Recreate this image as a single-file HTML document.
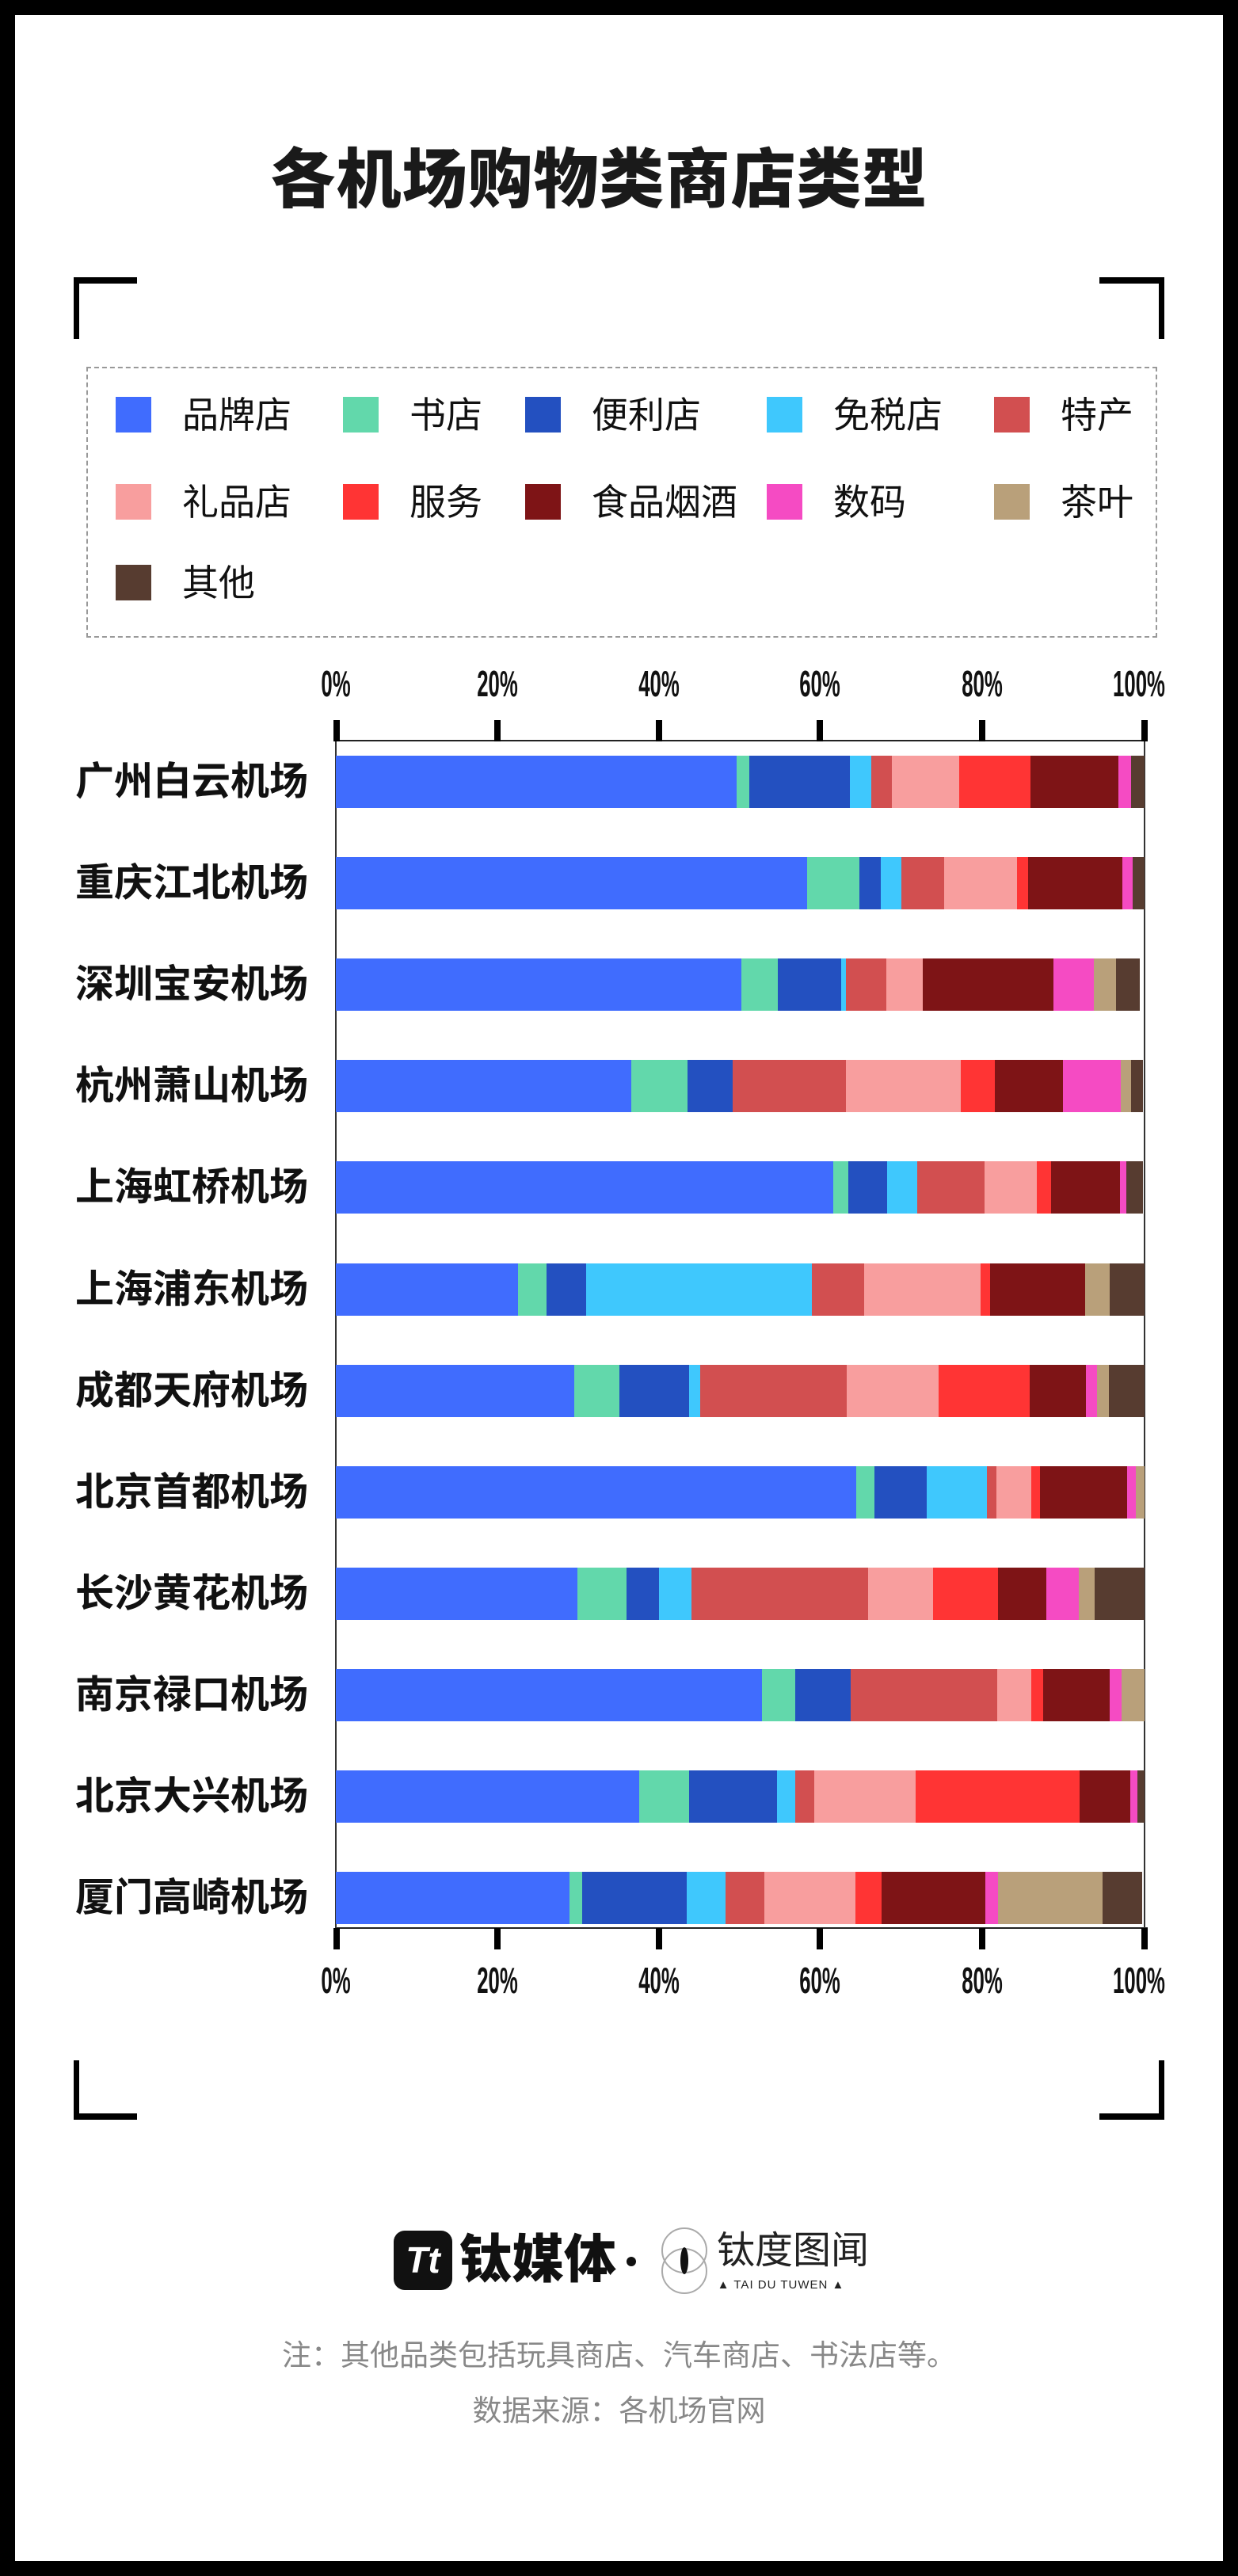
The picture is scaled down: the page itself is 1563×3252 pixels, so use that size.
<!DOCTYPE html>
<html><head><meta charset="utf-8"><style>
*{margin:0;padding:0;box-sizing:border-box}
body{width:1563px;height:3252px;position:relative;background:#fff;overflow:hidden;font-family:"Liberation Sans","Noto Sans CJK SC",sans-serif}
.frame{position:absolute;left:0;top:0;width:1563px;height:3252px;border:19px solid #000}
.abs{position:absolute}
.title{position:absolute;left:-25px;width:1563px;top:160px;text-align:center;font-size:82px;font-weight:900;color:#1a1a1a;letter-spacing:1px}
.br{position:absolute;background:#000}
.lg{position:absolute;left:109px;top:463px;width:1352px;height:342px;border:2px dashed #999}
.sq{position:absolute;width:45px;height:45px}
.lt{position:absolute;font-size:46px;line-height:46px;color:#111}
.bar{position:absolute;left:424px;height:66px;display:flex}
.bar div{height:66px}
.lab{position:absolute;left:95px;width:300px;font-size:49px;font-weight:bold;line-height:66px;color:#111;white-space:nowrap}
.tk{position:absolute;width:8px;height:27px;background:#000}
.tl{position:absolute;width:120px;text-align:center;font-size:46px;font-weight:bold;color:#111;transform:scaleX(0.56);line-height:40px}
.A{background:#406cfe}.B{background:#62d8ab}.C{background:#2350c0}.D{background:#3fc8fd}.E{background:#d24f50}.F{background:#f89e9e}.G{background:#ff3434}.H{background:#7e1416}.I{background:#f54bc3}.J{background:#b9a07a}.K{background:#573c30}
</style></head><body>
<div class="frame"></div>
<div class="title">各机场购物类商店类型</div>
<div class="br" style="left:93px;top:350px;width:80px;height:8px"></div>
<div class="br" style="left:93px;top:350px;width:7px;height:78px"></div>
<div class="br" style="left:1388px;top:350px;width:82px;height:8px"></div>
<div class="br" style="left:1463px;top:350px;width:7px;height:78px"></div>
<div class="br" style="left:93px;top:2668px;width:80px;height:8px"></div>
<div class="br" style="left:93px;top:2601px;width:7px;height:75px"></div>
<div class="br" style="left:1388px;top:2668px;width:82px;height:8px"></div>
<div class="br" style="left:1463px;top:2601px;width:7px;height:75px"></div>
<div class="lg"></div>
<div class="sq A" style="left:146px;top:501px"></div><div class="lt" style="left:230px;top:501px">品牌店</div>
<div class="sq B" style="left:433px;top:501px"></div><div class="lt" style="left:517px;top:501px">书店</div>
<div class="sq C" style="left:663px;top:501px"></div><div class="lt" style="left:747px;top:501px">便利店</div>
<div class="sq D" style="left:968px;top:501px"></div><div class="lt" style="left:1052px;top:501px">免税店</div>
<div class="sq E" style="left:1255px;top:501px"></div><div class="lt" style="left:1339px;top:501px">特产</div>
<div class="sq F" style="left:146px;top:611px"></div><div class="lt" style="left:230px;top:611px">礼品店</div>
<div class="sq G" style="left:433px;top:611px"></div><div class="lt" style="left:517px;top:611px">服务</div>
<div class="sq H" style="left:663px;top:611px"></div><div class="lt" style="left:747px;top:611px">食品烟酒</div>
<div class="sq I" style="left:968px;top:611px"></div><div class="lt" style="left:1052px;top:611px">数码</div>
<div class="sq J" style="left:1255px;top:611px"></div><div class="lt" style="left:1339px;top:611px">茶叶</div>
<div class="sq K" style="left:146px;top:713px"></div><div class="lt" style="left:230px;top:713px">其他</div>
<div class="abs" style="left:424px;top:934px;width:1025px;height:2px;background:#222"></div>
<div class="abs" style="left:424px;top:2433px;width:1025px;height:2px;background:#222"></div>
<div class="abs" style="left:423px;top:935px;width:2px;height:1499px;background:#333"></div>
<div class="abs" style="left:1444px;top:935px;width:2px;height:1499px;background:#333"></div>
<div class="tk" style="left:421px;top:909px"></div><div class="tk" style="left:624px;top:909px"></div><div class="tk" style="left:828px;top:909px"></div><div class="tk" style="left:1031px;top:909px"></div><div class="tk" style="left:1236px;top:909px"></div><div class="tk" style="left:1441px;top:909px"></div>
<div class="tk" style="left:421px;top:2434px"></div><div class="tk" style="left:624px;top:2434px"></div><div class="tk" style="left:828px;top:2434px"></div><div class="tk" style="left:1031px;top:2434px"></div><div class="tk" style="left:1236px;top:2434px"></div><div class="tk" style="left:1441px;top:2434px"></div>
<div class="tl" style="left:364px;top:843px">0%</div><div class="tl" style="left:568px;top:843px">20%</div><div class="tl" style="left:772px;top:843px">40%</div><div class="tl" style="left:975px;top:843px">60%</div><div class="tl" style="left:1180px;top:843px">80%</div><div class="tl" style="left:1378px;top:843px">100%</div>
<div class="tl" style="left:364px;top:2480px">0%</div><div class="tl" style="left:568px;top:2480px">20%</div><div class="tl" style="left:772px;top:2480px">40%</div><div class="tl" style="left:975px;top:2480px">60%</div><div class="tl" style="left:1180px;top:2480px">80%</div><div class="tl" style="left:1378px;top:2480px">100%</div>
<div class="lab" style="top:954px">广州白云机场</div>
<div class="lab" style="top:1082px">重庆江北机场</div>
<div class="lab" style="top:1210px">深圳宝安机场</div>
<div class="lab" style="top:1338px">杭州萧山机场</div>
<div class="lab" style="top:1466px">上海虹桥机场</div>
<div class="lab" style="top:1595px">上海浦东机场</div>
<div class="lab" style="top:1723px">成都天府机场</div>
<div class="lab" style="top:1851px">北京首都机场</div>
<div class="lab" style="top:1979px">长沙黄花机场</div>
<div class="lab" style="top:2107px">南京禄口机场</div>
<div class="lab" style="top:2235px">北京大兴机场</div>
<div class="lab" style="top:2363px">厦门高崎机场</div>
<div class="bar" style="top:954px"><div class="A" style="width:506px"></div><div class="B" style="width:16px"></div><div class="C" style="width:127px"></div><div class="D" style="width:27px"></div><div class="E" style="width:26px"></div><div class="F" style="width:85px"></div><div class="G" style="width:90px"></div><div class="H" style="width:111px"></div><div class="I" style="width:16px"></div><div class="K" style="width:17px"></div></div>
<div class="bar" style="top:1082px"><div class="A" style="width:595px"></div><div class="B" style="width:66px"></div><div class="C" style="width:27px"></div><div class="D" style="width:26px"></div><div class="E" style="width:54px"></div><div class="F" style="width:92px"></div><div class="G" style="width:14px"></div><div class="H" style="width:119px"></div><div class="I" style="width:13px"></div><div class="K" style="width:15px"></div></div>
<div class="bar" style="top:1210px"><div class="A" style="width:512px"></div><div class="B" style="width:46px"></div><div class="C" style="width:80px"></div><div class="D" style="width:6px"></div><div class="E" style="width:51px"></div><div class="F" style="width:46px"></div><div class="H" style="width:165px"></div><div class="I" style="width:51px"></div><div class="J" style="width:28px"></div><div class="K" style="width:30px"></div></div>
<div class="bar" style="top:1338px"><div class="A" style="width:373px"></div><div class="B" style="width:71px"></div><div class="C" style="width:57px"></div><div class="E" style="width:143px"></div><div class="F" style="width:145px"></div><div class="G" style="width:43px"></div><div class="H" style="width:86px"></div><div class="I" style="width:73px"></div><div class="J" style="width:13px"></div><div class="K" style="width:15px"></div></div>
<div class="bar" style="top:1466px"><div class="A" style="width:628px"></div><div class="B" style="width:19px"></div><div class="C" style="width:49px"></div><div class="D" style="width:38px"></div><div class="E" style="width:85px"></div><div class="F" style="width:66px"></div><div class="G" style="width:18px"></div><div class="H" style="width:87px"></div><div class="I" style="width:8px"></div><div class="K" style="width:21px"></div></div>
<div class="bar" style="top:1595px"><div class="A" style="width:230px"></div><div class="B" style="width:36px"></div><div class="C" style="width:50px"></div><div class="D" style="width:285px"></div><div class="E" style="width:66px"></div><div class="F" style="width:147px"></div><div class="G" style="width:12px"></div><div class="H" style="width:120px"></div><div class="J" style="width:31px"></div><div class="K" style="width:44px"></div></div>
<div class="bar" style="top:1723px"><div class="A" style="width:301px"></div><div class="B" style="width:57px"></div><div class="C" style="width:88px"></div><div class="D" style="width:14px"></div><div class="E" style="width:185px"></div><div class="F" style="width:116px"></div><div class="G" style="width:115px"></div><div class="H" style="width:71px"></div><div class="I" style="width:14px"></div><div class="J" style="width:15px"></div><div class="K" style="width:45px"></div></div>
<div class="bar" style="top:1851px"><div class="A" style="width:657px"></div><div class="B" style="width:23px"></div><div class="C" style="width:66px"></div><div class="D" style="width:76px"></div><div class="E" style="width:12px"></div><div class="F" style="width:44px"></div><div class="G" style="width:11px"></div><div class="H" style="width:110px"></div><div class="I" style="width:11px"></div><div class="J" style="width:11px"></div></div>
<div class="bar" style="top:1979px"><div class="A" style="width:305px"></div><div class="B" style="width:62px"></div><div class="C" style="width:41px"></div><div class="D" style="width:41px"></div><div class="E" style="width:223px"></div><div class="F" style="width:82px"></div><div class="G" style="width:82px"></div><div class="H" style="width:61px"></div><div class="I" style="width:41px"></div><div class="J" style="width:20px"></div><div class="K" style="width:63px"></div></div>
<div class="bar" style="top:2107px"><div class="A" style="width:538px"></div><div class="B" style="width:42px"></div><div class="C" style="width:70px"></div><div class="E" style="width:185px"></div><div class="F" style="width:43px"></div><div class="G" style="width:15px"></div><div class="H" style="width:84px"></div><div class="I" style="width:15px"></div><div class="J" style="width:29px"></div></div>
<div class="bar" style="top:2235px"><div class="A" style="width:383px"></div><div class="B" style="width:63px"></div><div class="C" style="width:111px"></div><div class="D" style="width:23px"></div><div class="E" style="width:24px"></div><div class="F" style="width:128px"></div><div class="G" style="width:207px"></div><div class="H" style="width:64px"></div><div class="I" style="width:9px"></div><div class="K" style="width:9px"></div></div>
<div class="bar" style="top:2363px"><div class="A" style="width:295px"></div><div class="B" style="width:16px"></div><div class="C" style="width:132px"></div><div class="D" style="width:49px"></div><div class="E" style="width:49px"></div><div class="F" style="width:115px"></div><div class="G" style="width:33px"></div><div class="H" style="width:131px"></div><div class="I" style="width:16px"></div><div class="J" style="width:132px"></div><div class="K" style="width:50px"></div></div>
<div class="abs" style="left:497px;top:2816px;width:74px;height:75px;background:#111;border-radius:14px;color:#fff;font-size:46px;font-weight:900;font-style:italic;text-align:center;line-height:75px">Tt</div>
<div class="abs" style="left:580px;top:2812px;font-size:66px;font-weight:900;line-height:80px;color:#111">钛媒体</div>
<div class="abs" style="left:791px;top:2849px;width:12px;height:12px;border-radius:6px;background:#111"></div>
<div class="abs" style="left:835px;top:2812px;width:58px;height:58px;border:2px solid #aaa;border-radius:50%"></div>
<div class="abs" style="left:835px;top:2838px;width:58px;height:58px;border:2px solid #aaa;border-radius:50%"></div>
<div class="abs" style="left:859px;top:2837px;width:10px;height:34px;border-radius:50%;background:#111"></div>
<div class="abs" style="left:905px;top:2814px;font-size:48px;line-height:56px;color:#222">钛度图闻</div>
<div class="abs" style="left:905px;top:2876px;width:162px;text-align:center;font-size:15px;letter-spacing:1px;color:#222">▲ TAI DU TUWEN ▲</div>
<div class="abs" style="left:0;width:1563px;top:2950px;text-align:center;font-size:37px;line-height:48px;color:#888">注：其他品类包括玩具商店、汽车商店、书法店等。</div>
<div class="abs" style="left:0;width:1563px;top:3020px;text-align:center;font-size:37px;line-height:48px;color:#888">数据来源：各机场官网</div>
</body></html>
